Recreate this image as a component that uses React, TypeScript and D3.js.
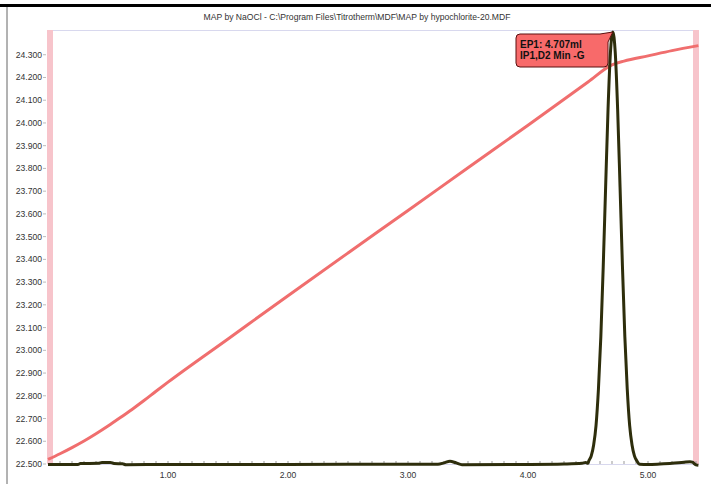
import React from "react";
import * as d3 from "d3";

const TITLE = "MAP by NaOCl - C:\\Program Files\\Titrotherm\\MDF\\MAP by hypochlorite-20.MDF";
const yTicks = [22.5, 22.6, 22.7, 22.8, 22.9, 23.0, 23.1, 23.2, 23.3, 23.4, 23.5, 23.6, 23.7, 23.8, 23.9, 24.0, 24.1, 24.2, 24.3];
const xTicks = [1, 2, 3, 4, 5];
const annotationLines = ["EP1: 4.707ml", "IP1,D2 Min -G"];
const endpointX = 4.707;
const endpointY = 24.4;

const tempX = [0, 0.1, 0.2, 0.3, 0.4, 0.5, 0.6, 0.7, 0.8, 0.9, 1.0, 1.5, 2.0, 2.5, 3.0, 3.5, 4.0, 4.5, 4.7, 4.8, 5.0, 5.2, 5.42];
const tempY = [22.52, 22.545, 22.572, 22.601, 22.633, 22.667, 22.703, 22.74, 22.779, 22.82, 22.86, 23.05, 23.24, 23.428, 23.615, 23.803, 23.99, 24.18, 24.255, 24.272, 24.295, 24.318, 24.34];

const derivX = [0, 0.25, 0.27, 0.42, 0.45, 0.52, 0.55, 0.62, 0.65, 1.0, 2.0, 3.0, 3.25, 3.3, 3.35, 3.4, 3.45, 4.0, 4.3, 4.45, 4.48, 4.5,
  4.507, 4.527, 4.547, 4.567, 4.587, 4.607, 4.627, 4.647, 4.667, 4.687, 4.707, 4.727, 4.747, 4.767, 4.787, 4.807, 4.827, 4.847, 4.867, 4.887, 4.907,
  4.93, 5.0, 5.1, 5.2, 5.3, 5.35, 5.37, 5.4, 5.42];
const derivY = [22.498, 22.498, 22.502, 22.503, 22.507, 22.507, 22.502, 22.501, 22.497, 22.498, 22.498, 22.499, 22.499, 22.505, 22.512, 22.505, 22.497, 22.498, 22.5, 22.503, 22.507, 22.503,
  22.514, 22.536, 22.584, 22.67, 22.83, 23.06, 23.37, 23.72, 24.06, 24.31, 24.4, 24.31, 24.06, 23.72, 23.37, 23.06, 22.83, 22.67, 22.584, 22.536, 22.514,
  22.499, 22.498, 22.5, 22.503, 22.508, 22.51, 22.508, 22.496, 22.494];

const W = 711, H = 484;
const left = 48, right = 699, top = 32, bottom = 464;

export default function App() {
  const x = d3.scaleLinear().domain([0, 5.425]).range([left, right]);
  const y = d3.scaleLinear().domain([22.5, 24.4]).range([bottom, top]);
  const line = d3.line<[number, number]>().x(d => x(d[0])).y(d => y(d[1])).curve(d3.curveMonotoneX);
  const tempData = tempX.map((v, i) => [v, tempY[i]] as [number, number]);
  const derivData = derivX.map((v, i) => [v, derivY[i]] as [number, number]);
  const minorTicks = d3.range(1, 55).map(i => i / 10);

  const px = x(endpointX), py = y(endpointY);
  const bx0 = 516, bx1 = 608, by0 = 34, by1 = 67, r = 4;
  const bubble = `M${bx0 + r},${by0} L${bx1 - 8},${by0} L${px},${py} L${bx1},${by0 + 8} L${bx1},${by1 - r} Q${bx1},${by1} ${bx1 - r},${by1} L${bx0 + r},${by1} Q${bx0},${by1} ${bx0},${by1 - r} L${bx0},${by0 + r} Q${bx0},${by0} ${bx0 + r},${by0} Z`;

  return (
    <svg width={W} height={H} style={{ position: "absolute", left: 0, top: 0, background: "#fff" }} fontFamily="Arial, 'Liberation Sans', sans-serif">
      <rect x={0} y={4} width={W} height={3} fill="#000" />
      <line x1={7} x2={7} y1={7} y2={H} stroke="#666" strokeWidth={1} />
      <text x={357} y={19.5} textAnchor="middle" fontSize={8.6} fill="#333">{TITLE}</text>

      {/* plot frame */}
      <line x1={left} x2={right} y1={30.5} y2={30.5} stroke="#d8d8ee" strokeWidth={1} />
      <line x1={left} x2={right} y1={bottom + 0.5} y2={bottom + 0.5} stroke="#d8d8ee" strokeWidth={1} />

      {/* pink limit bands */}
      <rect x={x(0) - 1} y={30} width={6} height={bottom - 30} fill="#f7c4cb" />
      <rect x={x(5.375)} y={30} width={x(5.425) - x(5.375)} height={bottom - 30} fill="#f7c4cb" />

      {/* y axis */}
      {yTicks.map(t => (
        <g key={t}>
          <line x1={43} x2={46} y1={y(t)} y2={y(t)} stroke="#bbb" />
          <text x={42} y={y(t) + 3} textAnchor="end" fontSize={8.6} fill="#333">{t.toFixed(3)}</text>
        </g>
      ))}

      {/* x axis */}
      {minorTicks.map(t => (
        <line key={t} x1={x(t)} x2={x(t)} y1={bottom} y2={bottom - 3} stroke="#999" />
      ))}
      {xTicks.map(t => (
        <text key={t} x={x(t)} y={478} textAnchor="middle" fontSize={8.6} fill="#333">{t.toFixed(2)}</text>
      ))}

      <path d={line(tempData) || ""} fill="none" stroke="#f06e6e" strokeWidth={3} strokeLinejoin="round" />
      <path d={line(derivData) || ""} fill="none" stroke="#2e2e0c" strokeWidth={3} strokeLinejoin="round" />

      <path d={bubble} fill="#f86a6a" stroke="#5a1010" strokeWidth={1} />
      {annotationLines.map((s, i) => (
        <text key={s} x={520} y={48 + i * 11.3} fontSize={10} fontWeight="bold" fill="#111">{s}</text>
      ))}
    </svg>
  );
}
